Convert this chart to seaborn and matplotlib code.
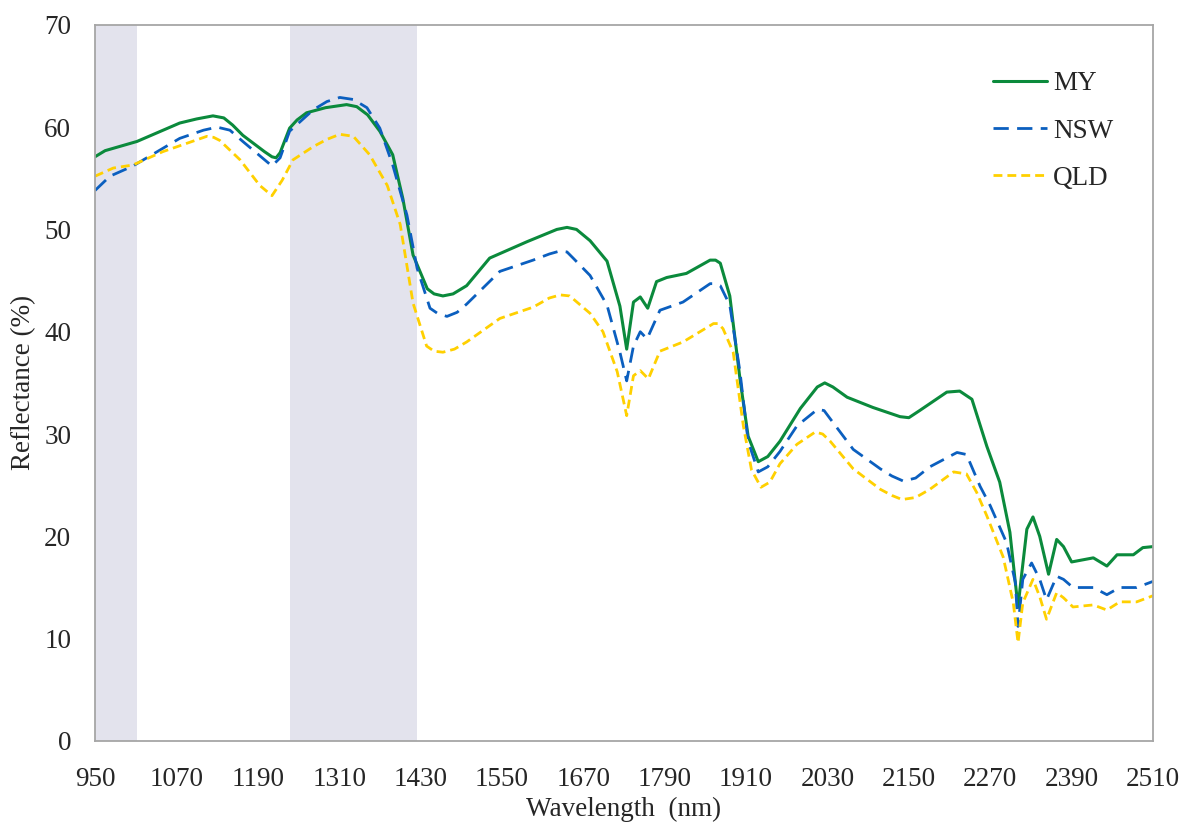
import pandas as pd
import matplotlib
matplotlib.use("Agg")
import matplotlib.pyplot as plt
import seaborn as sns

# Wavelength (nm) and reflectance (%)
my_wl = [950, 965, 1012, 1075, 1100, 1124, 1140, 1153, 1168, 1200,
         1211, 1217, 1223, 1237, 1248, 1262, 1290, 1321, 1336, 1352,
         1370, 1389, 1404, 1419, 1440, 1450, 1463, 1478, 1498, 1532,
         1587, 1631, 1646, 1660, 1680, 1705, 1724, 1734, 1744, 1754,
         1765, 1778, 1793, 1822, 1857, 1865, 1872, 1886, 1901, 1913,
         1928, 1942, 1960, 1990, 2015, 2026, 2038, 2059, 2097, 2137,
         2150, 2166, 2206, 2225, 2243, 2265, 2284, 2299, 2307, 2311,
         2316, 2324, 2333, 2343, 2356, 2368, 2378, 2390, 2422, 2442,
         2457, 2481, 2495, 2510]
my_ref = [57.1, 57.7, 58.6, 60.4, 60.8, 61.1, 60.9, 60.2, 59.2, 57.6,
          57.1, 57.0, 57.5, 59.9, 60.7, 61.4, 61.9, 62.2, 62.0, 61.2,
          59.6, 57.3, 53.0, 47.5, 44.2, 43.7, 43.5, 43.7, 44.5, 47.2,
          48.8, 50.0, 50.2, 50.0, 48.9, 46.9, 42.5, 38.3, 42.9, 43.4,
          42.3, 44.9, 45.3, 45.7, 47.0, 47.0, 46.7, 43.5, 35.4, 29.8,
          27.3, 27.8, 29.3, 32.5, 34.6, 35.0, 34.6, 33.6, 32.6, 31.7,
          31.6, 32.3, 34.1, 34.2, 33.4, 28.8, 25.3, 20.4, 15.5, 13.1,
          16.1, 20.7, 21.9, 20.0, 16.3, 19.7, 19.0, 17.5, 17.9, 17.1,
          18.2, 18.2, 18.9, 19.0]

nsw_wl = [950, 972, 1006, 1075, 1110, 1130, 1149, 1168, 1211, 1223,
          1237, 1272, 1292, 1311, 1331, 1351, 1370, 1389, 1410, 1425,
          1444, 1455, 1469, 1484, 1498, 1547, 1596, 1620, 1636, 1646,
          1655, 1680, 1705, 1724, 1734, 1744, 1754, 1764, 1783, 1817,
          1857, 1865, 1872, 1886, 1901, 1913, 1928, 1942, 1960, 1985,
          2015, 2025, 2034, 2068, 2108, 2125, 2142, 2160, 2181, 2221,
          2235, 2255, 2270, 2294, 2307, 2311, 2318, 2331, 2343, 2353,
          2368, 2378, 2392, 2422, 2442, 2461, 2486, 2510]
nsw_ref = [53.8, 55.2, 56.2, 58.9, 59.7, 60.0, 59.7, 58.6, 56.2, 57.0,
           59.6, 61.7, 62.5, 62.9, 62.7, 61.9, 59.9, 56.3, 51.4, 46.2,
           42.3, 41.8, 41.5, 41.9, 42.7, 45.9, 47.0, 47.6, 47.9, 47.8,
           47.2, 45.5, 42.6, 38.0, 35.2, 38.6, 40.0, 39.3, 42.1, 42.9,
           44.7, 44.7, 44.5, 42.6, 36.1, 29.3, 26.3, 26.8, 28.3, 30.8,
           32.4, 32.3, 31.5, 28.5, 26.6, 25.9, 25.4, 25.7, 26.8, 28.2,
           28.0, 24.9, 23.0, 19.4, 15.5, 11.2, 15.8, 17.4, 15.8, 13.8,
           16.1, 15.8, 15.0, 15.0, 14.3, 15.0, 15.0, 15.6]

qld_wl = [950, 977, 1006, 1050, 1115, 1125, 1134, 1164, 1193, 1211,
          1226, 1242, 1272, 1292, 1311, 1331, 1355, 1381, 1400, 1419,
          1439, 1450, 1463, 1480, 1498, 1547, 1596, 1620, 1636, 1650,
          1680, 1699, 1720, 1734, 1744, 1754, 1766, 1783, 1817, 1862,
          1869, 1876, 1891, 1906, 1918, 1932, 1945, 1960, 1985, 2012,
          2023, 2034, 2068, 2108, 2125, 2140, 2160, 2181, 2216, 2235,
          2250, 2265, 2289, 2304, 2311, 2318, 2333, 2343, 2353, 2368,
          2378, 2392, 2422, 2442, 2461, 2486, 2510]
qld_ref = [55.2, 56.0, 56.3, 57.6, 59.1, 59.0, 58.7, 56.8, 54.3, 53.3,
           54.8, 56.8, 58.1, 58.8, 59.3, 59.1, 57.3, 54.3, 50.5, 42.8,
           38.6, 38.1, 38.0, 38.3, 39.0, 41.3, 42.4, 43.3, 43.6, 43.5,
           41.8, 40.0, 36.1, 31.8, 35.7, 36.2, 35.4, 38.1, 39.0, 40.8,
           40.8, 40.3, 38.0, 30.8, 26.5, 24.8, 25.3, 27.1, 29.0, 30.2,
           30.0, 29.3, 26.6, 24.6, 24.0, 23.6, 23.8, 24.6, 26.3, 26.1,
           24.3, 22.0, 18.0, 13.5, 9.6, 13.5, 15.8, 14.1, 11.9, 14.5,
           14.0, 13.1, 13.3, 12.8, 13.6, 13.6, 14.2]

# shaded wavelength bands
band_start = [950, 1238]
band_end = [1012, 1425]

x_ticks = list(range(950, 2511, 120))
y_ticks = list(range(0, 71, 10))

sns.set_style("white")
plt.rcParams['font.family'] = ['Liberation Serif', 'DejaVu Serif']

fig = plt.figure(figsize=(11.81, 8.27), dpi=100)
ax = fig.add_axes([0.0804, 0.104, 0.8959, 0.866])

for s, e in zip(band_start, band_end):
    ax.axvspan(s, e, color='#e3e3ed', lw=0, zorder=0)

sns.lineplot(x=my_wl, y=my_ref, ax=ax, color='#0b8a3c', lw=2.2, label='MY')
sns.lineplot(x=nsw_wl, y=nsw_ref, ax=ax, color='#0b5fbf', lw=2.0,
             label='NSW').lines[-1].set_dashes([5.5, 3.0])
sns.lineplot(x=qld_wl, y=qld_ref, ax=ax, color='#ffd000', lw=2.0,
             label='QLD').lines[-1].set_dashes([3.2, 1.8])
for ln in ax.lines:
    ln.set_solid_joinstyle('round')
    ln.set_dash_joinstyle('round')

ax.set_xlim(950, 2510)
ax.set_ylim(0, 70)
ax.set_xticks(x_ticks)
ax.set_yticks(y_ticks)
ax.tick_params(axis='both', length=0, labelsize=19.5)
ax.tick_params(axis='x', pad=18.5)
ax.tick_params(axis='y', pad=17)
ax.set_xlabel('Wavelength  (nm)', fontsize=19.5, labelpad=4)
ax.set_ylabel('Reflectance (%)', fontsize=19.5, labelpad=6)

for sp in ax.spines.values():
    sp.set_color('#a6a6a6')
    sp.set_linewidth(1.3)

ax.legend(loc='upper left', bbox_to_anchor=(0.849, 0.935), frameon=False,
          fontsize=19.5, handlelength=2.0, handletextpad=0.2,
          labelspacing=0.82, borderpad=0, borderaxespad=0)

fig.savefig('out.png', dpi=100)
